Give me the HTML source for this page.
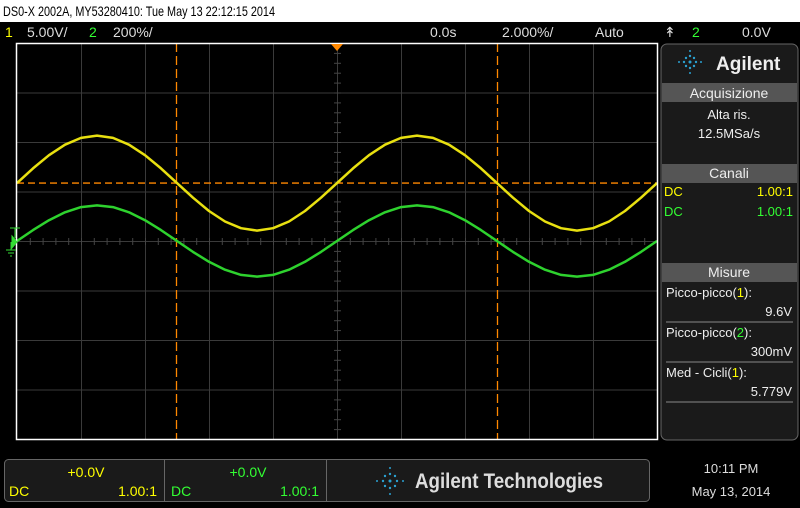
<!DOCTYPE html>
<html><head><meta charset="utf-8"><style>
body{margin:0;width:800px;height:503px;background:#000;overflow:hidden;font-family:"Liberation Sans",sans-serif;}
svg text{font-family:"Liberation Sans",sans-serif;}
</style></head><body>
<svg id="scope" width="800" height="503" xmlns="http://www.w3.org/2000/svg">
<rect x="0" y="0" width="800" height="503" fill="#000"/>
<rect x="0" y="0" width="800" height="22" fill="#fff"/>
<text x="3" y="16" font-size="14" fill="#000" textLength="272" lengthAdjust="spacingAndGlyphs">DS0-X 2002A, MY53280410: Tue May 13 22:12:15 2014</text>
<g font-size="14" fill="#ddd">
<text x="5" y="37" fill="#ff0">1</text>
<text x="27" y="37">5.00V/</text>
<text x="89" y="37" fill="#3f3">2</text>
<text x="113" y="37">200%/</text>
<text x="430" y="37">0.0s</text>
<text x="502" y="37">2.000%/</text>
<text x="595" y="37">Auto</text>
<text x="664" y="37">↟</text>
<text x="692" y="37" fill="#3f3">2</text>
<text x="742" y="37">0.0V</text>
</g>
<g id="grid"></g>
<g id="marks"></g>
<rect x="16.5" y="43.5" width="641" height="396" fill="none" stroke="#fff" stroke-width="1.5"/>
<polygon points="331,44 343,44 337,51" fill="#f80"/>
<g stroke="#3d3" fill="none">
<path d="M10,228 h10 M15,228 v10 M6,250 h10 M8,253 h6 M10,256 h2 M11,242 v8"/>
<polygon points="12,236 17,242 12,248" fill="#3d3"/>
</g>
<g>
<rect x="661" y="44" width="137" height="396" rx="6" fill="#1a1a1a" stroke="#666"/>
<g fill="#2aa0d0">
<circle cx="690" cy="62" r="1.5"/><circle cx="690" cy="56" r="1.2"/><circle cx="690" cy="68" r="1.2"/><circle cx="684" cy="62" r="1.2"/><circle cx="696" cy="62" r="1.2"/><circle cx="686" cy="58" r="1.2"/><circle cx="694" cy="66" r="1.2"/><circle cx="694" cy="58" r="1.2"/><circle cx="686" cy="66" r="1.2"/><circle cx="679" cy="62" r="1"/><circle cx="701" cy="62" r="1"/><circle cx="690" cy="51" r="1"/><circle cx="690" cy="73" r="1"/>
</g>
<text x="716" y="70" font-size="19" font-weight="bold" fill="#eee">Agilent</text>
<rect x="662" y="83" width="135" height="19" fill="#555"/>
<text x="729" y="98" font-size="14" fill="#eee" text-anchor="middle">Acquisizione</text>
<text x="729" y="119" font-size="13" fill="#eee" text-anchor="middle">Alta ris.</text>
<text x="729" y="138" font-size="13" fill="#eee" text-anchor="middle">12.5MSa/s</text>
<rect x="662" y="164" width="135" height="19" fill="#555"/>
<text x="729" y="178" font-size="14" fill="#eee" text-anchor="middle">Canali</text>
<text x="664" y="196" font-size="13" fill="#ff0">DC</text><text x="793" y="196" font-size="13" fill="#ff0" text-anchor="end">1.00:1</text>
<text x="664" y="216" font-size="13" fill="#3f3">DC</text><text x="793" y="216" font-size="13" fill="#3f3" text-anchor="end">1.00:1</text>
<rect x="662" y="263" width="135" height="19" fill="#555"/>
<text x="729" y="277" font-size="14" fill="#eee" text-anchor="middle">Misure</text>
<g font-size="13" fill="#eee">
<text x="666" y="297">Picco-picco(<tspan fill="#ff0">1</tspan>):</text>
<text x="792" y="316" text-anchor="end">9.6V</text>
<line x1="666" y1="322" x2="793" y2="322" stroke="#888"/>
<text x="666" y="337">Picco-picco(<tspan fill="#3f3">2</tspan>):</text>
<text x="792" y="356" text-anchor="end">300mV</text>
<line x1="666" y1="362" x2="793" y2="362" stroke="#888"/>
<text x="666" y="377">Med - Cicli(<tspan fill="#ff0">1</tspan>):</text>
<text x="792" y="396" text-anchor="end">5.779V</text>
<line x1="666" y1="402" x2="793" y2="402" stroke="#888"/>
</g>
</g>
<g>
<rect x="4.5" y="459.5" width="645" height="42" rx="4" fill="#1a1a1a" stroke="#666"/>
<line x1="164.5" y1="460" x2="164.5" y2="501" stroke="#666"/>
<line x1="326.5" y1="460" x2="326.5" y2="501" stroke="#666"/>
<text x="86" y="477" font-size="14" fill="#ff0" text-anchor="middle">+0.0V</text>
<text x="9" y="496" font-size="14" fill="#ff0">DC</text><text x="157" y="496" font-size="14" fill="#ff0" text-anchor="end">1.00:1</text>
<text x="248" y="477" font-size="14" fill="#3f3" text-anchor="middle">+0.0V</text>
<text x="171" y="496" font-size="14" fill="#3f3">DC</text><text x="319" y="496" font-size="14" fill="#3f3" text-anchor="end">1.00:1</text>
<g fill="#2aa0d0"><circle cx="390" cy="481" r="1.5"/><circle cx="390" cy="474" r="1.2"/><circle cx="390" cy="488" r="1.2"/><circle cx="383" cy="481" r="1.2"/><circle cx="397" cy="481" r="1.2"/><circle cx="385" cy="476" r="1.2"/><circle cx="395" cy="486" r="1.2"/><circle cx="395" cy="476" r="1.2"/><circle cx="385" cy="486" r="1.2"/><circle cx="377" cy="481" r="1"/><circle cx="403" cy="481" r="1"/><circle cx="390" cy="468" r="1"/><circle cx="390" cy="494" r="1"/></g>
<text x="415" y="488" font-size="21" font-weight="bold" fill="#ddd" textLength="188" lengthAdjust="spacingAndGlyphs">Agilent Technologies</text>
<text x="731" y="473" font-size="13" fill="#ddd" text-anchor="middle">10:11 PM</text>
<text x="731" y="496" font-size="13" fill="#ddd" text-anchor="middle">May 13, 2014</text>
</g>
</svg>
<script>
// time in ms, sampled every 0.5 ms
const timesMs = [0,0.5,1,1.5,2,2.5,3,3.5,4,4.5,5,5.5,6,6.5,7,7.5,8,8.5,9,9.5,10,10.5,11,11.5,12,12.5,13,13.5,14,14.5,15,15.5,16,16.5,17,17.5,18,18.5,19,19.5,20];
const ch1Volts = [0,1.48,2.82,3.88,4.56,4.8,4.56,3.88,2.82,1.48,0,-1.48,-2.82,-3.88,-4.56,-4.8,-4.56,-3.88,-2.82,-1.48,0,1.48,2.82,3.88,4.56,4.8,4.56,3.88,2.82,1.48,0,-1.48,-2.82,-3.88,-4.56,-4.8,-4.56,-3.88,-2.82,-1.48,0];
const ch2MilliVolts = [0,44,84,116,137,144,137,116,84,44,0,-44,-84,-116,-137,-144,-137,-116,-84,-44,0,44,84,116,137,144,137,116,84,44,0,-44,-84,-116,-137,-144,-137,-116,-84,-44,0];
const ch1Scale = 5;      // V/div
const ch2Scale = 200;    // mV/div
const ch1OffsetDiv = 1.17;
const ch2OffsetDiv = 0;
const NS='http://www.w3.org/2000/svg';
const X0=17, DIVX=64, Y0=43, DIVY=49.5, TDIV=2;
const yc = Y0+4*DIVY;
function xOf(t){return X0 + t/TDIV*DIVX;}
function yOf(v,scale,off){return yc - (v/scale + off)*DIVY;}
const grid=document.getElementById('grid');
function ln(x1,y1,x2,y2,c,dash,w){const l=document.createElementNS(NS,'line');l.setAttribute('x1',x1);l.setAttribute('y1',y1);l.setAttribute('x2',x2);l.setAttribute('y2',y2);l.setAttribute('stroke',c);l.setAttribute('stroke-width',w||1);if(dash)l.setAttribute('stroke-dasharray',dash);return l;}
for(let i=1;i<10;i++){const l=ln(X0+i*DIVX+.5,Y0,X0+i*DIVX+.5,Y0+8*DIVY,'#3a3a3a');


grid.appendChild(l);}
for(let j=1;j<8;j++){const l=ln(X0,Y0+j*DIVY+.5,X0+10*DIVX,Y0+j*DIVY+.5,'#3a3a3a');


grid.appendChild(l);}
for(let k=1;k<50;k++){const x=X0+k*DIVX/5+.5;const l=ln(x,yc-3,x,yc+4,'#444');


grid.appendChild(l);}
for(let k=1;k<40;k++){const y=Y0+k*DIVY/5+.5;const l=ln(X0+5*DIVX-3,y,X0+5*DIVX+4,y,'#444');


grid.appendChild(l);}
const c1=ln(xOf(5)-0.5,Y0,xOf(5)-0.5,Y0+8*DIVY,'#f80','9,4',1.3);


grid.appendChild(c1);
const c2=ln(xOf(15)+0.5,Y0,xOf(15)+0.5,Y0+8*DIVY,'#f80','9,4',1.3);


grid.appendChild(c2);
const c3=ln(X0,yOf(0,ch1Scale,ch1OffsetDiv),X0+10*DIVX,yOf(0,ch1Scale,ch1OffsetDiv),'#f80','7,4',1.3);


grid.appendChild(c3);
const marks=document.getElementById('marks');
function trace(vals,scale,off,color,name){
  const p=document.createElementNS(NS,'polyline');
  p.setAttribute('points',timesMs.map((t,i)=>xOf(t).toFixed(1)+','+yOf(vals[i],scale,off).toFixed(1)).join(' '));
  p.setAttribute('fill','none');p.setAttribute('stroke',color);p.setAttribute('stroke-width','2.5');
  p.setAttribute('stroke-linejoin','round');
  
  
  marks.appendChild(p);
}
trace(ch2MilliVolts,ch2Scale,ch2OffsetDiv,'#2ed22e','channel-2-trace');
trace(ch1Volts,ch1Scale,ch1OffsetDiv,'#e8e010','channel-1-trace');
</script>
</body></html>
